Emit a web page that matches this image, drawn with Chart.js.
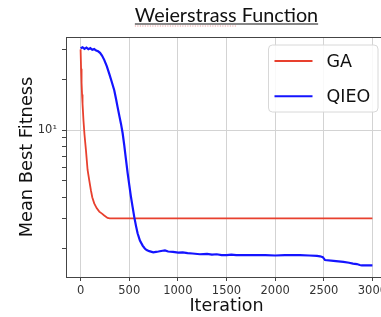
<!DOCTYPE html>
<html><head><meta charset="utf-8">
<script src="https://cdn.jsdelivr.net/npm/chart.js@4.4.1/dist/chart.umd.min.js"></script>
<style>
html,body{margin:0;padding:0;overflow:hidden;background:#fff;width:381px;height:317px}
#wrap{position:absolute;left:0;top:0;width:400px;height:317px}
</style></head><body>
<div id="wrap"><canvas id="c" width="400" height="317"></canvas></div>
<script>
const chartTitle = 'Weierstrass Function';
const xTitle = 'Iteration';
const yTitle = 'Mean Best Fitness';
const seriesNames = ['GA', 'QIEO'];
const xTickValues = [0, 500, 1000, 1500, 2000, 2500, 3000];
const yTickValues = [2, 3, 4, 5, 6, 7, 8, 9, 10, 20, 30];
const yMajorValues = [10];

const gaIter  = [0, 5, 10, 15, 20, 30, 40, 55, 72, 90, 106, 120, 140, 165, 192, 220, 243, 277, 300, 3000];
const gaValue = [30, 23, 19, 16.2, 14.3, 11.3, 9.4, 7.6, 5.8, 5.0, 4.4, 4.0, 3.68, 3.45, 3.29, 3.2, 3.12, 3.02, 3.0, 3.0];

const qieoIter  = [0, 20, 40, 60, 80, 100, 120, 140, 160, 180, 200, 220, 243, 270, 295, 320, 346, 365, 380, 400, 415, 432, 449, 465, 483, 500, 517, 535, 552, 570, 586, 610, 638, 660, 679, 706, 747, 775, 800, 843, 867, 900, 950, 1004, 1050, 1100, 1150, 1227, 1300, 1350, 1400, 1450, 1502, 1550, 1600, 1700, 1811, 1900, 2000, 2100, 2256, 2350, 2430, 2462, 2490, 2513, 2600, 2702, 2760, 2800, 2840, 2870, 2891, 3000];
const qieoValue = [30.5, 30.9, 30.2, 30.7, 30.1, 30.5, 29.8, 30.1, 29.5, 29.2, 28.6, 27.6, 26.0, 23.8, 21.5, 19.3, 17.2, 15.2, 13.7, 12.0, 10.9, 9.6, 8.1, 6.8, 5.6, 4.75, 4.05, 3.5, 3.05, 2.7, 2.45, 2.22, 2.07, 1.99, 1.95, 1.92, 1.89, 1.90, 1.91, 1.93, 1.94, 1.91, 1.90, 1.88, 1.89, 1.87, 1.86, 1.84, 1.85, 1.83, 1.84, 1.82, 1.82, 1.83, 1.82, 1.82, 1.82, 1.82, 1.81, 1.82, 1.82, 1.81, 1.80, 1.79, 1.77, 1.70, 1.68, 1.66, 1.64, 1.62, 1.61, 1.59, 1.58, 1.58];

const toPts = (xs, ys) => xs.map((x, i) => ({x: x, y: ys[i]}));

const framePlugin = {
  id: 'frame',
  afterDatasetsDraw(chart) {
    const {ctx, chartArea: a} = chart;
    ctx.save();
    ctx.strokeStyle = '#444';
    ctx.lineWidth = 1;
    ctx.strokeRect(a.left + 0.5, a.top + 0.5, a.right - a.left, a.bottom - a.top);
    ctx.restore();
  }
};

const legendPlugin = {
  id: 'boxLegend',
  afterDraw(chart) {
    const {ctx, chartArea: a} = chart;
    const x0 = a.right - 118.5, y0 = a.top + 8, w = 109.5, h = 67, r = 4;
    ctx.save();
    ctx.beginPath();
    ctx.moveTo(x0 + r, y0);
    ctx.arcTo(x0 + w, y0, x0 + w, y0 + h, r);
    ctx.arcTo(x0 + w, y0 + h, x0, y0 + h, r);
    ctx.arcTo(x0, y0 + h, x0, y0, r);
    ctx.arcTo(x0, y0, x0 + w, y0, r);
    ctx.closePath();
    ctx.fillStyle = 'rgba(255,255,255,0.85)';
    ctx.fill();
    ctx.strokeStyle = '#d8d8d8';
    ctx.lineWidth = 1;
    ctx.stroke();
    chart.data.datasets.forEach((ds, i) => {
      const yy = y0 + 16 + i * 35.3;
      ctx.strokeStyle = ds.borderColor;
      ctx.lineWidth = 2;
      ctx.beginPath();
      ctx.moveTo(x0 + 6, yy);
      ctx.lineTo(x0 + 44, yy);
      ctx.stroke();
      ctx.fillStyle = '#111';
      ctx.font = '17.5px "DejaVu Sans"';
      ctx.textBaseline = 'middle';
      ctx.textAlign = 'left';
      ctx.fillText(ds.label, x0 + 58, yy + 1);
    });
    ctx.restore();
  }
};

const titlePlugin = {
  id: 'topTitle',
  afterDraw(chart) {
    const {ctx, chartArea: a} = chart;
    const cx = (a.left + a.right) / 2;
    ctx.save();
    ctx.font = '19.8px Lato';
    ctx.fillStyle = '#111';
    ctx.textAlign = 'center';
    ctx.textBaseline = 'alphabetic';
    ctx.fillText(chartTitle, cx, 21.5);
    const tw = ctx.measureText(chartTitle).width;
    const ww = ctx.measureText(chartTitle.split(' ')[0]).width;
    const lx = cx - tw / 2;
    ctx.strokeStyle = '#111';
    ctx.lineWidth = 1.2;
    ctx.beginPath();
    ctx.moveTo(lx, 24);
    ctx.lineTo(lx + tw, 24);
    ctx.stroke();
    ctx.strokeStyle = 'rgba(220,60,60,0.7)';
    ctx.lineWidth = 0.8;
    ctx.setLineDash([1, 1.5]);
    ctx.beginPath();
    ctx.moveTo(lx, 26);
    ctx.lineTo(lx + ww, 26);
    ctx.stroke();
    ctx.restore();
  }
};

new Chart(document.getElementById('c'), {
  type: 'line',
  data: {
    datasets: [
      {label: seriesNames[0], data: toPts(gaIter, gaValue), borderColor: '#e8402e', borderWidth: 1.8, pointRadius: 0, tension: 0, order: 2},
      {label: seriesNames[1], data: toPts(qieoIter, qieoValue), borderColor: '#1414ff', borderWidth: 2.2, pointRadius: 0, tension: 0, order: 1}
    ]
  },
  options: {
    responsive: false,
    animation: false,
    devicePixelRatio: 1,
    layout: {padding: {top: 37, right: 13, left: 0, bottom: 0}},
    plugins: {legend: {display: false}, tooltip: {enabled: false}, title: {display: false}},
    scales: {
      x: {
        type: 'linear', min: -150, max: 3150,
        afterBuildTicks: ax => { ax.ticks = xTickValues.map(v => ({value: v})); },
        afterFit: ax => { ax.height = 40; ax.paddingLeft = 0; ax.paddingRight = 0; },
        ticks: {callback: v => String(v), font: {family: 'DejaVu Sans', size: 11.5}, color: '#333', padding: 3, maxRotation: 0, autoSkip: false},
        grid: {color: '#d3d3d3', lineWidth: 1, tickLength: 4, tickColor: '#444'},
        border: {display: true, color: '#444', width: 1},
        title: {display: true, text: xTitle, font: {family: 'DejaVu Sans', size: 17.5, lineHeight: 1.2}, color: '#111', padding: {top: 0, bottom: 0}}
      },
      y: {
        type: 'logarithmic', min: 1.35, max: 35.5,
        afterBuildTicks: ax => { ax.ticks = yTickValues.map(v => ({value: v, major: yMajorValues.includes(v)})); },
        afterFit: ax => { ax.width = 66; ax.paddingTop = 0; ax.paddingBottom = 0; },
        ticks: {callback: v => (yMajorValues.includes(v) ? '10\u00b9' : ''), font: {family: 'DejaVu Sans', size: 11.5}, color: '#333', padding: 5, autoSkip: false},
        grid: {color: c => (c.tick && yMajorValues.includes(c.tick.value)) ? '#d3d3d3' : 'rgba(0,0,0,0)', lineWidth: 1, tickLength: 4, tickColor: '#444'},
        border: {display: true, color: '#444', width: 1},
        title: {display: true, text: yTitle, font: {family: 'DejaVu Sans', size: 17.8, lineHeight: 1.2}, color: '#111', padding: {top: 17, bottom: 0}}
      }
    }
  },
  plugins: [framePlugin, legendPlugin, titlePlugin]
});
</script>
</body></html>
